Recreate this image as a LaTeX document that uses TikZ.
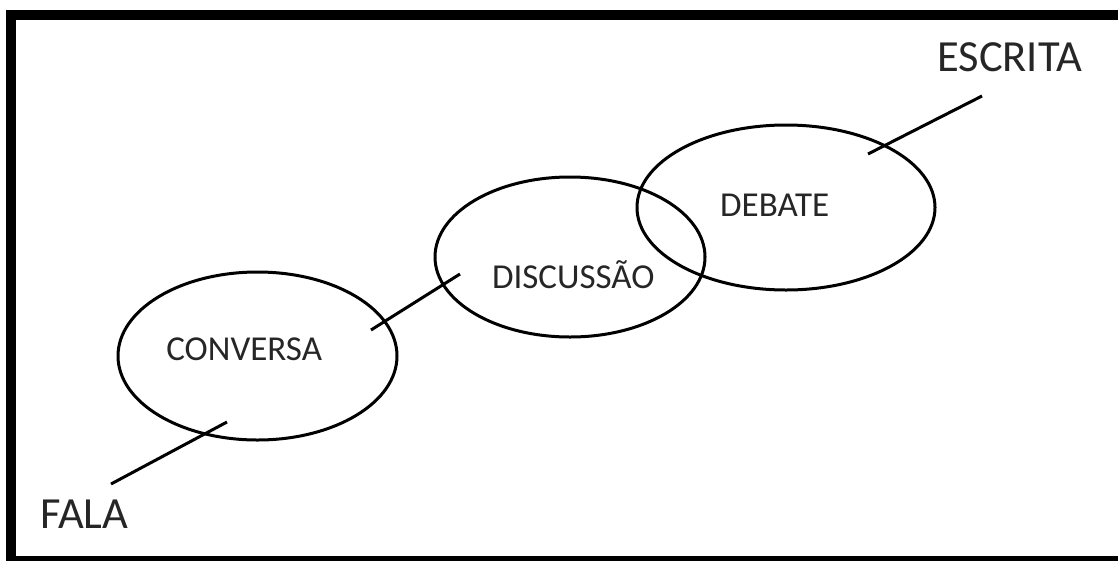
\documentclass[tikz,border=0pt]{standalone}
\usepackage{fontspec}
\setmainfont{Carlito}
\usetikzlibrary{shapes.geometric}
\tikzset{
  bubble/.style={draw=black, line width=3pt, ellipse, inner sep=0pt},
  midlabel/.style={anchor=base, inner sep=0pt, text=black!85, font=\fontsize{35}{41}\selectfont},
  endlabel/.style={anchor=base, inner sep=0pt, text=black!85, font=\fontsize{44.5}{50}\selectfont},
  link/.style={draw=black, line width=3pt}
}
\begin{document}
\begin{tikzpicture}[x=1pt, y=-1pt]
\useasboundingbox (0,0) rectangle (1118,560);
\clip (0,0) rectangle (1118,560);
\fill[white] (0,0) rectangle (1118,560);
\draw[line width=10pt] (11,15) rectangle (1125,561);
% ellipses
\node[bubble, minimum width=279pt, minimum height=168pt] (conversa) at (257.5,356) {};
\node[bubble, minimum width=270pt, minimum height=160pt] (discussao) at (570,257) {};
\node[bubble, minimum width=298pt, minimum height=165pt] (debate) at (786,207.5) {};
% labels
\node[midlabel] (tconversa) at (244.2,360) {CONVERSA};
\node[midlabel] (tdiscussao) at (573.3,288.3) {DISCUSSÃO};
\node[midlabel] (tdebate) at (774.7,216.7) {DEBATE};
\node[endlabel] (fala) at (84.2,528.3) {FALA};
\node[endlabel] (escrita) at (1009.7,71.7) {ESCRITA};
% connector ends
\coordinate (l1a) at (111,484);
\coordinate (l1b) at (227,422);
\coordinate (l2a) at (371,330);
\coordinate (l2b) at (460,274);
\coordinate (l3a) at (868,154);
\coordinate (l3b) at (982,96);
\draw[link] (l1a) -- (l1b);
\draw[link] (l2a) -- (l2b);
\draw[link] (l3a) -- (l3b);
\end{tikzpicture}
\end{document}
